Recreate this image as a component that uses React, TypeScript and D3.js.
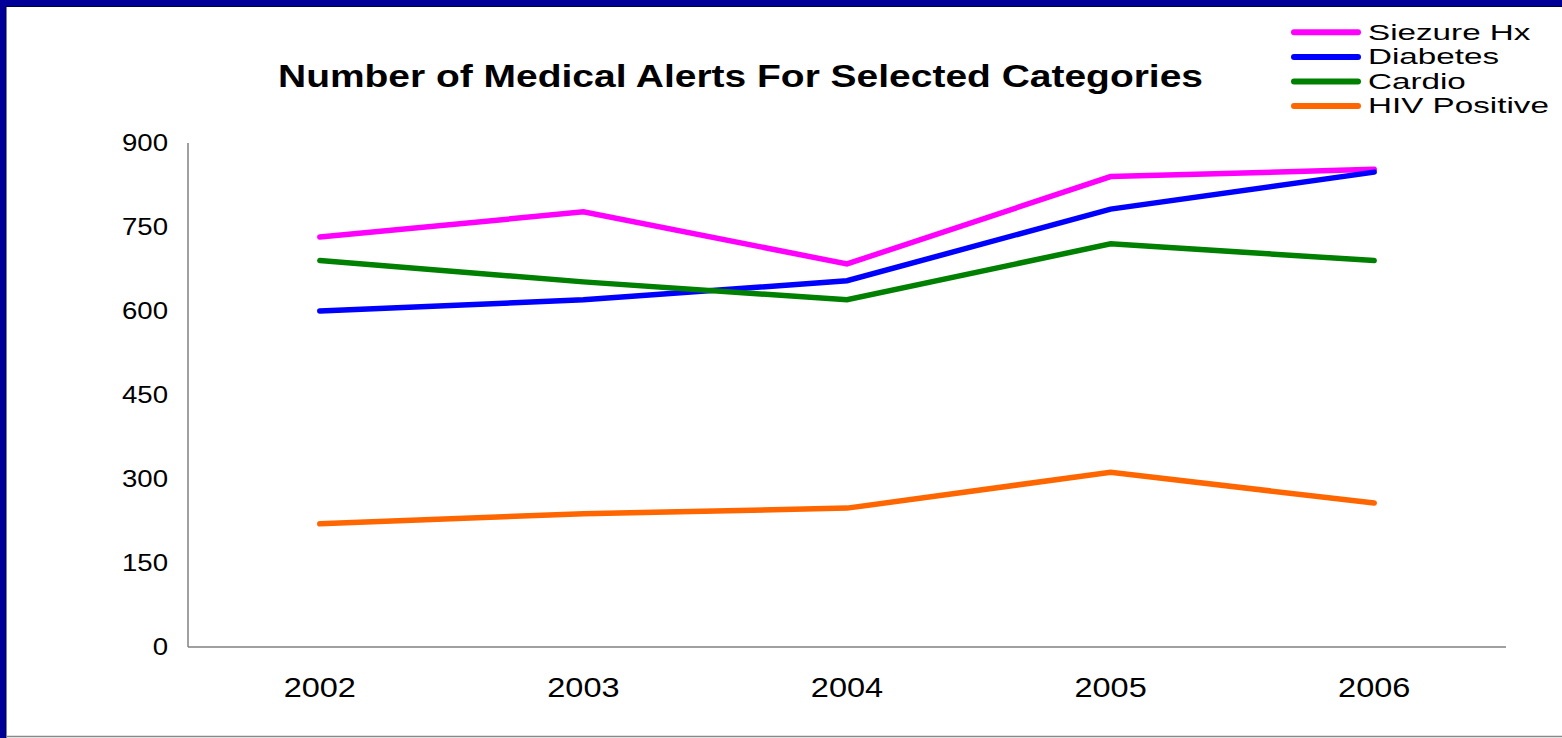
import React from "react";
import * as d3 from "d3";

const years = ["2002", "2003", "2004", "2005", "2006"];
const seizure = [732, 777, 684, 840, 853];
const diabetes = [600, 620, 654, 782, 848];
const cardio = [690, 652, 620, 720, 690];
const hiv = [220, 238, 248, 312, 257];
const yTicks = [0, 150, 300, 450, 600, 750, 900];
const seriesNames = ["Siezure Hx", "Diabetes", "Cardio", "HIV Positive"];
const seriesColors = ["#FF00FF", "#0000FF", "#008000", "#FF6600"];
const seriesData = [seizure, diabetes, cardio, hiv];

const W = 1562;
const H = 738;
const FONT = "'Liberation Sans', Arial, sans-serif";

export default function App() {
  const x = d3.scaleBand<string>().domain(years).range([188, 1506]);
  const y = d3.scaleLinear().domain([0, 900]).range([647, 143]);
  const line = d3
    .line<number>()
    .x((_, i) => (x(years[i]) as number) + x.bandwidth() / 2)
    .y((d) => y(d));

  return (
    <svg
      width={W}
      height={H}
      style={{ position: "absolute", left: 0, top: 0, display: "block", background: "#fff" }}
    >
      <rect x={0} y={0} width={W} height={H} fill="#fff" />
      {/* frame */}
      <rect x={0} y={0} width={W} height={6.5} fill="#000099" />
      <rect x={0} y={0} width={6} height={H} fill="#000099" />
      <line x1={6} x2={W} y1={6.5} y2={6.5} stroke="#000044" strokeWidth={1} />
      <line x1={6} x2={6} y1={6.5} y2={H} stroke="#000044" strokeWidth={1} />
      <line x1={6} x2={W} y1={736.5} y2={736.5} stroke="#888" strokeWidth={1.5} />

      {/* title */}
      <text
        x={740.5}
        y={87}
        textAnchor="middle"
        fontFamily={FONT}
        fontWeight="bold"
        fontSize={31}
        textLength={925}
        lengthAdjust="spacingAndGlyphs"
        fill="#000"
      >
        Number of Medical Alerts For Selected Categories
      </text>

      {/* axes */}
      <line x1={188} x2={188} y1={143} y2={647} stroke="#808080" strokeWidth={1.5} />
      <line x1={188} x2={1506} y1={647} y2={647} stroke="#808080" strokeWidth={1.5} />

      {yTicks.map((t) => (
        <text
          key={t}
          transform={`translate(168,${y(t) + 8.3}) scale(1.2,1)`}
          textAnchor="end"
          fontFamily={FONT}
          fontSize={23}
          fill="#000"
        >
          {t}
        </text>
      ))}

      {years.map((yr) => (
        <text
          key={yr}
          transform={`translate(${(x(yr) as number) + x.bandwidth() / 2},697) scale(1.14,1)`}
          textAnchor="middle"
          fontFamily={FONT}
          fontSize={28.5}
          fill="#000"
        >
          {yr}
        </text>
      ))}

      {/* series */}
      {seriesData.map((s, i) => (
        <path
          key={seriesNames[i]}
          d={line(s) as string}
          fill="none"
          stroke={seriesColors[i]}
          strokeWidth={5.5}
          strokeLinecap="round"
          strokeLinejoin="miter"
        />
      ))}

      {/* legend */}
      {seriesNames.map((n, i) => {
        const ly = 32.3 + i * 24.6;
        return (
          <g key={n}>
            <line x1={1294} x2={1358} y1={ly} y2={ly} stroke={seriesColors[i]} strokeWidth={6} strokeLinecap="round" />
            <text
              transform={`translate(1368,${ly + 7.3}) scale(1.49,1)`}
              fontFamily={FONT}
              fontSize={22.3}
              fill="#000"
            >
              {n}
            </text>
          </g>
        );
      })}
    </svg>
  );
}
